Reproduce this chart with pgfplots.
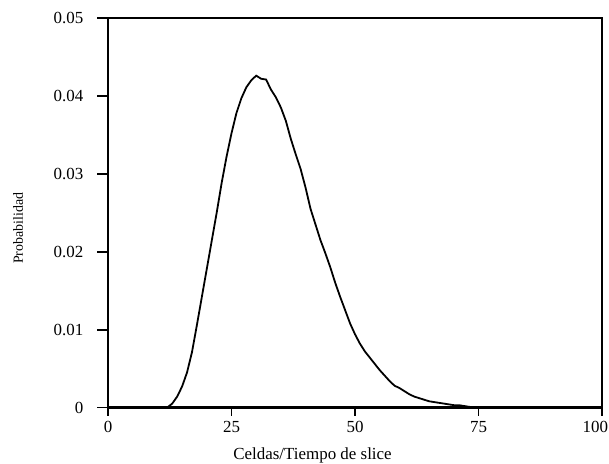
\documentclass[border=0pt]{standalone}
\usepackage{pgfplots}
\pgfplotsset{compat=1.18}
\usepackage{fontspec}
\setmainfont{Liberation Serif}
\begin{document}
\begin{tikzpicture}
\begin{axis}[
  at={(0,0)}, anchor=south west,
  scale only axis, width=494bp, height=389.5bp,
  xmin=0, xmax=100, ymin=0, ymax=0.05,
  xtick={0,25,50,75,100}, ytick={0,0.01,0.02,0.03,0.04,0.05},
  xticklabels={0,25,50,75,\makebox[0pt][r]{100\hspace{-6bp}}},
  yticklabel style={/pgf/number format/fixed,/pgf/number format/precision=2, xshift=-17bp},
  xticklabel style={yshift=-6bp},
  scaled y ticks=false,
  /pgf/number format/assume math mode=true,
  tick align=outside, xtick pos=bottom, ytick pos=left,
  x tick style={line width=2pt, black}, y tick style={line width=2pt, black},
  xtick style={/pgfplots/major tick length=8bp},
  ytick style={/pgfplots/major tick length=11bp},
  tick label style={font=\fontsize{17}{20}\selectfont},
  xlabel={Celdas/Tiempo de slice}, ylabel={Probabilidad},
  xlabel style={font=\fontsize{17}{20}\selectfont, at={(axis description cs:0.414,0)}, anchor=base, yshift=-52bp},
  ylabel style={font=\fontsize{14}{16}\selectfont, at={(axis description cs:-0.182,0.46)}, anchor=center},
  axis line style={line width=1.5pt},
  clip=false,
]
\addplot[black, line width=1.8pt] coordinates {
(0,0) (12,0) (13,0.0005) (14,0.0014) (15,0.0027) (16,0.0045) (17,0.0071) (18,0.0106) (19,0.0142) (20,0.0178) (21,0.0214) (22,0.0250) (23,0.0288) (24,0.0322) (25,0.0352) (26,0.0378) (27,0.0397) (28,0.0411) (29,0.0420) (30,0.0426) (30.5,0.0424) (31,0.0422) (32,0.0421) (33,0.0408) (34,0.0398) (35,0.0385) (36,0.0368) (37,0.0345) (38,0.0325) (39,0.0306) (40,0.0282) (41,0.0255) (42,0.0235) (43,0.0215) (44,0.0198) (45,0.0180) (46,0.0160) (47,0.0142) (48,0.0125) (49,0.0108) (50,0.0094) (51,0.0082) (52,0.0072) (53,0.0064) (54,0.0056) (55,0.0048) (56,0.0041) (57,0.0034) (58,0.0028) (59,0.0025) (60,0.0021) (61,0.0017) (62,0.0014) (63,0.0012) (64,0.0010) (65,0.0008) (66,0.0007) (67,0.0006) (68,0.0005) (69,0.0004) (70,0.0003) (71,0.0003) (72,0.0002) (73,0.0001) (74,0) (100,0)
};
\draw[line width=2.7pt] (rel axis cs:0,1) -- (rel axis cs:0,0) -- (rel axis cs:1,0);
\end{axis}
\pgfresetboundingbox
\path[use as bounding box] (-108bp,-56.5bp) rectangle (501bp,407.5bp);
\end{tikzpicture}
\end{document}
